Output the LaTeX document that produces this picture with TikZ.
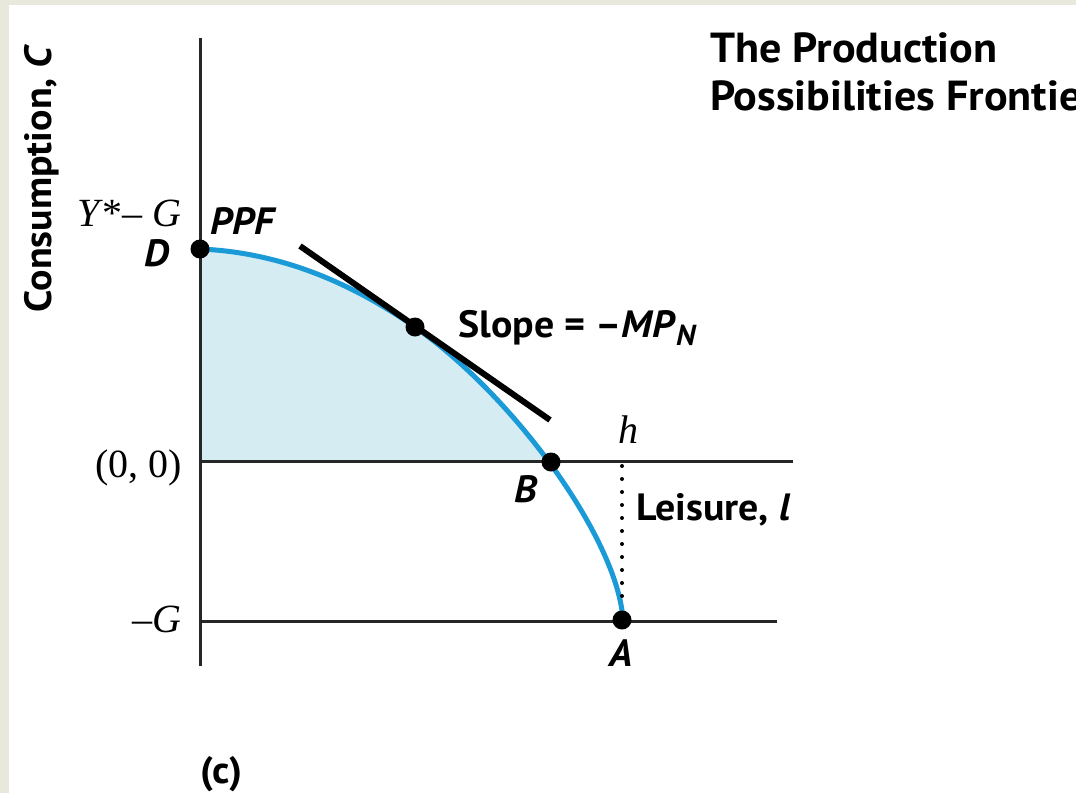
\documentclass[tikz,border=0pt]{standalone}
\usepackage{fontspec}
\setmainfont{PT Sans}[FakeStretch=1.05]
\newfontfamily\seriff{Liberation Serif}
\definecolor{framecol}{HTML}{E8E8DC}
\definecolor{ppfblue}{HTML}{1A9AD6}
\definecolor{ppffill}{HTML}{D5ECF2}
\begin{document}
\begin{tikzpicture}[x=1pt,y=-1pt,
  lab/.style={font=\fontsize{38}{44}\selectfont\bfseries, inner sep=0pt},
  ttl/.style={font=\fontsize{42}{48}\selectfont\bfseries, inner sep=0pt},
  ser/.style={font=\seriff\fontsize{40}{46}\selectfont, inner sep=0pt},
  axisline/.style={line width=3pt, black!85},
  dotnode/.style={circle, fill=black, inner sep=0pt, minimum size=19pt},
  curvestyle/.style={line width=5pt, ppfblue},
  tangentstyle/.style={line width=6pt, black},
  dotline/.style={line width=4pt, line cap=round, dash pattern=on 0pt off 13pt, black}]
\useasboundingbox (0,0) rectangle (1076,793);
\fill[framecol] (0,0) rectangle (1076,793);
\fill[white] (9,5) rectangle (1076,793);

% coordinates
\coordinate (Ytop) at (200,38);
\coordinate (Ybot) at (200,666);
\coordinate (O) at (200,461);
\coordinate (Xend) at (793,461);
\coordinate (G0) at (200,621);
\coordinate (Gend) at (777,621);
\coordinate (t1) at (300,246);
\coordinate (t2) at (550,420);
\coordinate (htop) at (622,466);

% shaded region
\begin{scope}
\clip (200,0) rectangle (1076,461);
\fill[ppffill] (200,249) .. controls (272,252) and (343,277) .. (415,327)
  .. controls (515,397) and (618,540) .. (623,620) -- (200,620) -- cycle;
\end{scope}

% axes
\draw[axisline] (Ytop) -- (Ybot);
\draw[axisline] (O) -- (Xend);
\draw[axisline] (G0) -- (Gend);

% PPF curve
\draw[curvestyle] (200,249) .. controls (272,252) and (343,277) .. (415,327)
  .. controls (515,397) and (618,540) .. (623,620);

% dotted line
\draw[dotline] (htop) -- (622,608);

% tangent
\draw[tangentstyle] (t1) -- (t2);

% dots
\node[dotnode] (D) at (200,249) {};
\node[dotnode] (T) at (415,327) {};
\node[dotnode] (B) at (551,462) {};
\node[dotnode] (A) at (622,620) {};

% labels
\node[lab, rotate=90] (ylab) at (42,178) {Consumption, \textit{C}};
\node[ttl, anchor=base west] (title1) at (710,62) {The Production};
\node[ttl, anchor=base west] (title2) at (710,110) {Possibilities Frontier};
\node[ser, anchor=base east] (ystar) at (182,226) {\textit{Y}*– \textit{G}};
\node[lab, anchor=base east] (Dl) at (170,266) {\textit{D}};
\node[lab, anchor=base west] (ppf) at (210,234) {\textit{PPF}};
\node[lab, anchor=base west] (slope) at (458,337) {Slope = –\textit{MP}\raisebox{-8pt}{\fontsize{29}{30}\selectfont\textit{N}}};
\node[ser, anchor=base east] (zero) at (182,477) {(0, 0)};
\node[ser, anchor=base east] (mg) at (182,632) {–\textit{G}};
\node[ser, anchor=base] (hl) at (628,443) {\textit{h}};
\node[lab, anchor=base] (Bl) at (526,502) {\textit{B}};
\node[lab, anchor=base] (Al) at (621,666) {\textit{A}};
\node[lab, anchor=base west] (leis) at (636,520) {Leisure, \textit{l}};
\node[lab, anchor=base west] (cl) at (200,783) {(c)};
\end{tikzpicture}
\end{document}
